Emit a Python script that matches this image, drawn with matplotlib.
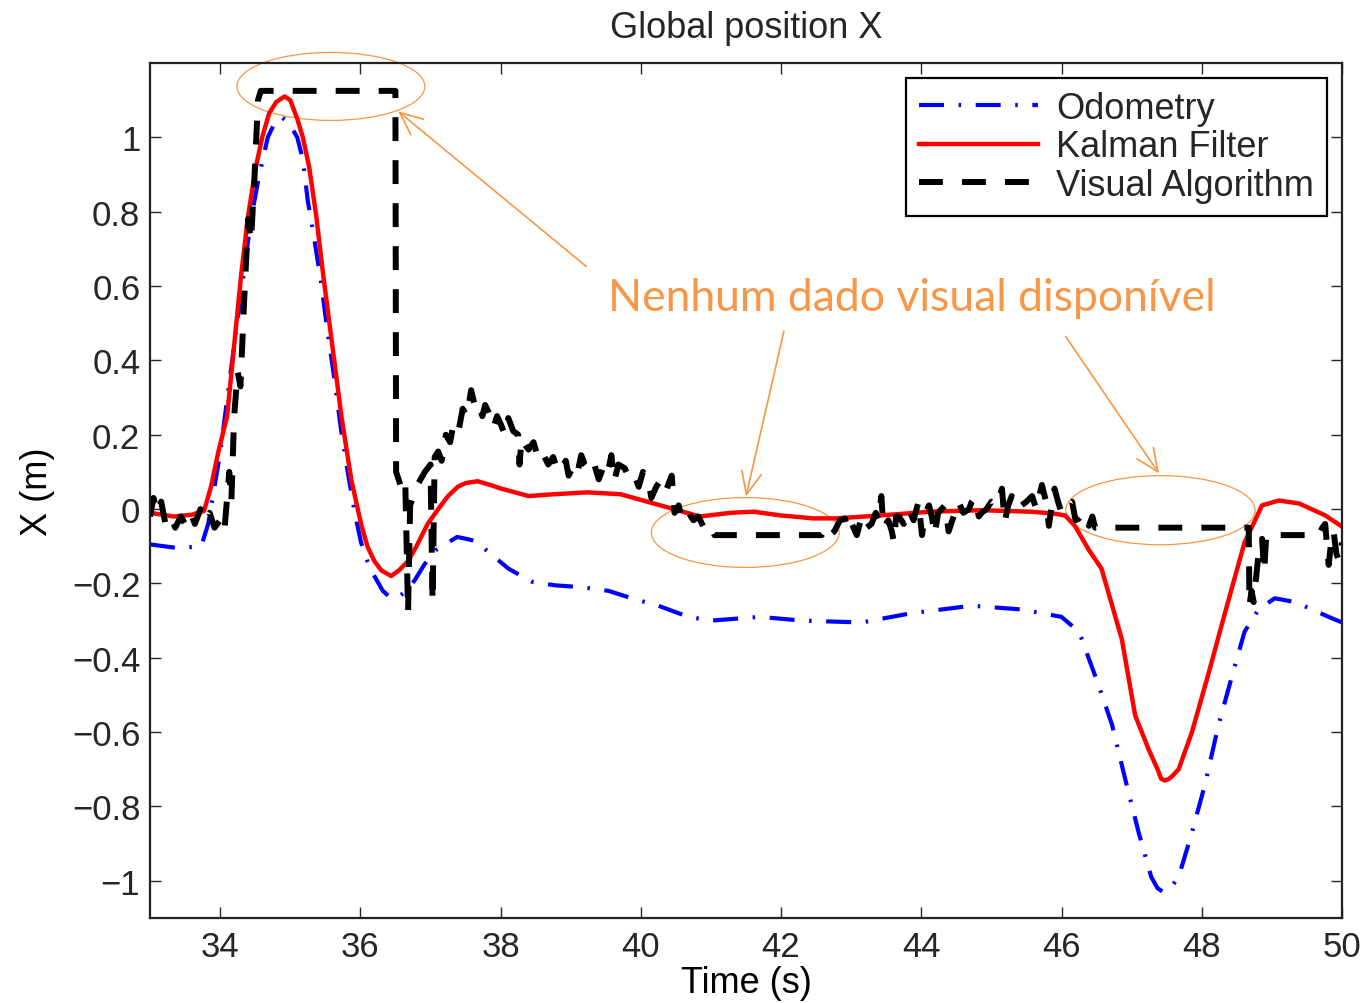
import numpy as np
import matplotlib.pyplot as plt
from matplotlib.patches import Ellipse, FancyArrowPatch

plt.rcParams['font.family'] = ['Liberation Sans', 'DejaVu Sans']
plt.rcParams['text.color'] = '#262626'

# Odometry
odo_t = [33.00, 33.40, 33.73, 33.83, 34.00, 34.20, 34.44, 34.56, 34.68, 34.78,
         34.87, 34.98, 35.10, 35.18, 35.25, 35.34, 35.44, 35.53, 35.63, 35.72,
         35.82, 35.92, 36.01, 36.10, 36.20, 36.32, 36.44, 36.55, 36.66, 36.78,
         36.91, 37.08, 37.25, 37.38, 37.51, 37.62, 37.73, 38.11, 38.44, 38.77,
         39.15, 39.54, 39.87, 40.25, 40.68, 41.00, 41.70, 42.30, 43.15, 43.86,
         44.72, 45.43, 46.00, 46.25, 46.53, 46.72, 46.90, 47.10, 47.28, 47.37,
         47.45, 47.55, 47.67, 47.86, 48.04, 48.24, 48.43, 48.61, 48.81, 49.04,
         49.33, 49.81, 50.00]
odo_x = [-0.095, -0.105, -0.10, -0.04, 0.15, 0.44, 0.78, 0.90, 1.00, 1.04,
         1.055, 1.04, 1.00, 0.94, 0.83, 0.73, 0.61, 0.48, 0.35, 0.22,
         0.10, -0.01, -0.09, -0.14, -0.18, -0.22, -0.24, -0.235, -0.22, -0.19,
         -0.15, -0.11, -0.09, -0.075, -0.08, -0.085, -0.10, -0.16, -0.195, -0.205,
         -0.21, -0.22, -0.24, -0.26, -0.29, -0.30, -0.29, -0.30, -0.305, -0.28,
         -0.26, -0.27, -0.29, -0.33, -0.475, -0.58, -0.72, -0.87, -0.99, -1.02,
         -1.03, -1.02, -0.99, -0.87, -0.745, -0.58, -0.45, -0.33, -0.27, -0.24,
         -0.25, -0.29, -0.305]

# Kalman filter
kf_t = [33.00, 33.34, 33.60, 33.77, 33.87, 33.97, 34.10, 34.20, 34.30, 34.40,
        34.51, 34.60, 34.70, 34.80, 34.92, 35.00, 35.10, 35.18, 35.27, 35.37,
        35.47, 35.60, 35.73, 35.87, 36.01, 36.10, 36.20, 36.30, 36.44, 36.55,
        36.68, 36.80, 36.96, 37.11, 37.25, 37.39, 37.50, 37.67, 37.85, 38.01,
        38.40, 38.76, 39.24, 39.71, 40.09, 40.47, 40.84, 41.28, 41.61, 41.99,
        42.46, 42.80, 43.42, 44.13, 44.85, 45.56, 45.89, 46.05, 46.19, 46.39,
        46.57, 46.86, 47.05, 47.25, 47.37, 47.42, 47.47, 47.52, 47.57, 47.67,
        47.86, 48.10, 48.33, 48.61, 48.86, 49.10, 49.39, 49.76, 50.00]
kf_x = [-0.01, -0.02, -0.015, -0.005, 0.06, 0.15, 0.25, 0.44, 0.63, 0.79,
        0.92, 1.00, 1.065, 1.095, 1.11, 1.10, 1.05, 1.00, 0.92, 0.79,
        0.63, 0.44, 0.25, 0.08, -0.04, -0.10, -0.14, -0.165, -0.18, -0.165,
        -0.14, -0.10, -0.04, 0.0, 0.035, 0.06, 0.07, 0.075, 0.065, 0.055,
        0.035, 0.04, 0.045, 0.04, 0.02, 0.0, -0.02, -0.01, -0.007, -0.017,
        -0.025, -0.025, -0.017, -0.007, -0.003, -0.007, -0.012, -0.017, -0.045, -0.11,
        -0.16, -0.35, -0.555, -0.65, -0.70, -0.725, -0.73, -0.727, -0.72, -0.70,
        -0.60, -0.44, -0.28, -0.09, 0.01, 0.023, 0.015, -0.017, -0.047]

# Visual algorithm
vis_t = [33.00, 33.05, 33.10, 33.16, 33.22, 33.30, 33.36, 33.44, 33.50, 33.58,
         33.64, 33.72, 33.78, 33.85, 33.92, 34.00, 34.06, 34.13, 34.16, 34.20,
         34.25, 34.29, 34.34, 34.40, 34.44, 34.49, 34.54, 34.58, 36.50, 36.51,
         36.58, 36.64, 36.68, 36.71, 36.80, 36.92, 37.00, 37.03, 37.06, 37.11,
         37.16, 37.22, 37.28, 37.33, 37.40, 37.46, 37.52, 37.58, 37.63, 37.68,
         37.74, 37.78, 37.83, 37.90, 37.95, 38.01, 38.06, 38.11, 38.18, 38.25,
         38.27, 38.30, 38.36, 38.40, 38.47, 38.54, 38.60, 38.68, 38.75, 38.82,
         38.87, 38.93, 38.97, 39.05, 39.10, 39.15, 39.20, 39.25, 39.32, 39.40,
         39.46, 39.52, 39.58, 39.62, 39.68, 39.77, 39.84, 39.91, 39.97, 40.03,
         40.11, 40.15, 40.22, 40.29, 40.36, 40.44, 40.48, 40.54, 40.58, 40.64,
         40.68, 40.75, 40.82, 40.90, 40.97, 41.05, 42.58, 42.65, 42.70, 42.76,
         42.84, 42.91, 42.96, 43.01, 43.08, 43.15, 43.22, 43.29, 43.35, 43.39,
         43.43, 43.46, 43.53, 43.58, 43.61, 43.64, 43.68, 43.75, 43.82, 43.89,
         43.96, 44.01, 44.06, 44.11, 44.15, 44.19, 44.24, 44.29, 44.34, 44.39,
         44.46, 44.53, 44.60, 44.68, 44.72, 44.76, 44.82, 44.86, 44.93, 45.00,
         45.08, 45.15, 45.19, 45.24, 45.29, 45.36, 45.43, 45.50, 45.58, 45.64,
         45.72, 45.78, 45.82, 45.86, 45.90, 45.95, 46.00, 46.07, 46.15, 46.20,
         46.25, 46.32, 46.39, 46.44, 46.48, 48.67, 48.68, 48.71, 48.74, 48.82,
         48.86, 48.89, 48.92, 49.67, 49.72, 49.76, 49.81, 49.85, 49.88, 49.92,
         49.96, 50.00]
vis_x = [-0.02, 0.03, -0.01, 0.02, -0.04, -0.02, -0.05, -0.02, -0.04, -0.01,
         -0.04, 0.00, -0.03, -0.01, -0.05, -0.03, -0.06, 0.10, 0.02, 0.25,
         0.37, 0.33, 0.55, 0.78, 0.72, 0.89, 1.10, 1.125, 1.125, 0.10,
         0.06, 0.08, -0.28, 0.01, 0.06, 0.10, 0.12, -0.25, 0.14, 0.155,
         0.13, 0.20, 0.18, 0.23, 0.21, 0.27, 0.25, 0.32, 0.28, 0.29,
         0.25, 0.28, 0.26, 0.22, 0.25, 0.225, 0.20, 0.245, 0.21, 0.20,
         0.12, 0.19, 0.17, 0.16, 0.18, 0.135, 0.15, 0.12, 0.14, 0.10,
         0.11, 0.13, 0.09, 0.12, 0.10, 0.145, 0.12, 0.11, 0.13, 0.08,
         0.11, 0.09, 0.145, 0.075, 0.12, 0.11, 0.08, 0.09, 0.06, 0.10,
         0.075, 0.03, 0.06, 0.08, 0.05, 0.09, -0.01, 0.01, -0.02, -0.03,
         -0.01, -0.03, -0.02, -0.05, -0.04, -0.07, -0.07, -0.05, -0.07, -0.06,
         -0.03, -0.025, -0.06, -0.04, -0.07, -0.02, -0.05, -0.04, -0.01, -0.03,
         0.035, -0.05, -0.03, -0.06, -0.09, -0.02, -0.02, -0.04, 0.00, -0.03,
         0.02, -0.07, -0.01, 0.01, -0.02, -0.07, -0.01, 0.00, 0.01, -0.06,
         -0.02, 0.02, -0.01, 0.00, 0.02, 0.03, -0.02, -0.01, 0.00, 0.02,
         0.01, 0.055, -0.035, 0.01, 0.035, 0.00, 0.01, 0.02, 0.035, 0.00,
         0.065, 0.02, -0.045, 0.01, 0.055, 0.02, -0.01, 0.01, 0.02, -0.03,
         -0.025, -0.01, -0.045, -0.02, -0.05, -0.05, -0.26, -0.22, -0.25, -0.10,
         -0.08, -0.17, -0.07, -0.07, -0.05, -0.04, -0.15, -0.08, -0.06, -0.12,
         -0.14, -0.09]

x_ticks = [34, 36, 38, 40, 42, 44, 46, 48, 50]
y_ticks = [-1, -0.8, -0.6, -0.4, -0.2, 0, 0.2, 0.4, 0.6, 0.8, 1]

note_text = 'Nenhum dado visual disponível'
orange = '#F79646'

W, H = 1365, 1004
fig = plt.figure(figsize=(W / 100, H / 100), dpi=100)
ax = fig.add_axes([150 / W, 1 - 919 / H, 1192 / W, 855 / H])

ax.plot(odo_t, odo_x, color='b', lw=3, dashes=[6, 3.5, 0.6, 3.5], label='Odometry')
ax.plot(kf_t, kf_x, color='r', lw=3.2, label='Kalman Filter')
ax.plot(vis_t, vis_x, color='k', lw=4.3, dashes=[4, 3.2], label='Visual Algorithm')

ax.set_xlim(33, 50)
ax.set_ylim(-1.1, 1.2)
ax.set_xticks(x_ticks)
ax.set_yticks(y_ticks)
ax.set_yticklabels(['\u22121', '\u22120.8', '\u22120.6', '\u22120.4', '\u22120.2',
                    '0', '0.2', '0.4', '0.6', '0.8', '1'])
ax.tick_params(direction='in', length=8, width=1, top=True, right=True,
               labelsize=25, colors='#262626')
ax.tick_params(axis='x', pad=9)
ax.tick_params(axis='y', pad=7)
for s in ax.spines.values():
    s.set_linewidth(1.6)
    s.set_color('#222222')

ax.set_title('Global position X', fontsize=26, pad=19)
ax.set_xlabel('Time (s)', fontsize=26, labelpad=1)
ax.set_ylabel('X (m)', fontsize=26, labelpad=12)

leg = ax.legend(loc='upper right', fontsize=26, fancybox=False, framealpha=1,
                edgecolor='k', handlelength=3.3, handletextpad=0.5,
                labelspacing=0.1, borderpad=0.35, borderaxespad=0.42)
leg.get_frame().set_linewidth(1.6)

# orange notes
ellipses = [(35.58, 1.137, 2.68, 0.183), (41.49, -0.063, 2.68, 0.188),
            (47.41, -0.003, 2.70, 0.186)]
for cx, cy, w, h in ellipses:
    ax.add_patch(Ellipse((cx, cy), w, h, fill=False, ec=orange, lw=0.9, clip_on=False))

arrows = [((39.22, 0.653), (36.54, 1.070)), ((42.04, 0.478), (41.50, 0.034)),
          ((46.06, 0.464), (47.39, 0.096))]
for tail, tip in arrows:
    ax.add_patch(FancyArrowPatch(tail, tip, arrowstyle='->,head_length=0.9,head_width=0.4',
                                 mutation_scale=18, color=orange, lw=1.2,
                                 shrinkA=0, shrinkB=0, clip_on=False))

ax.text(39.53, 0.57, note_text, color=orange, fontsize=32, family='Lato',
        ha='left', va='center')

fig.savefig('out.png', dpi=100)
